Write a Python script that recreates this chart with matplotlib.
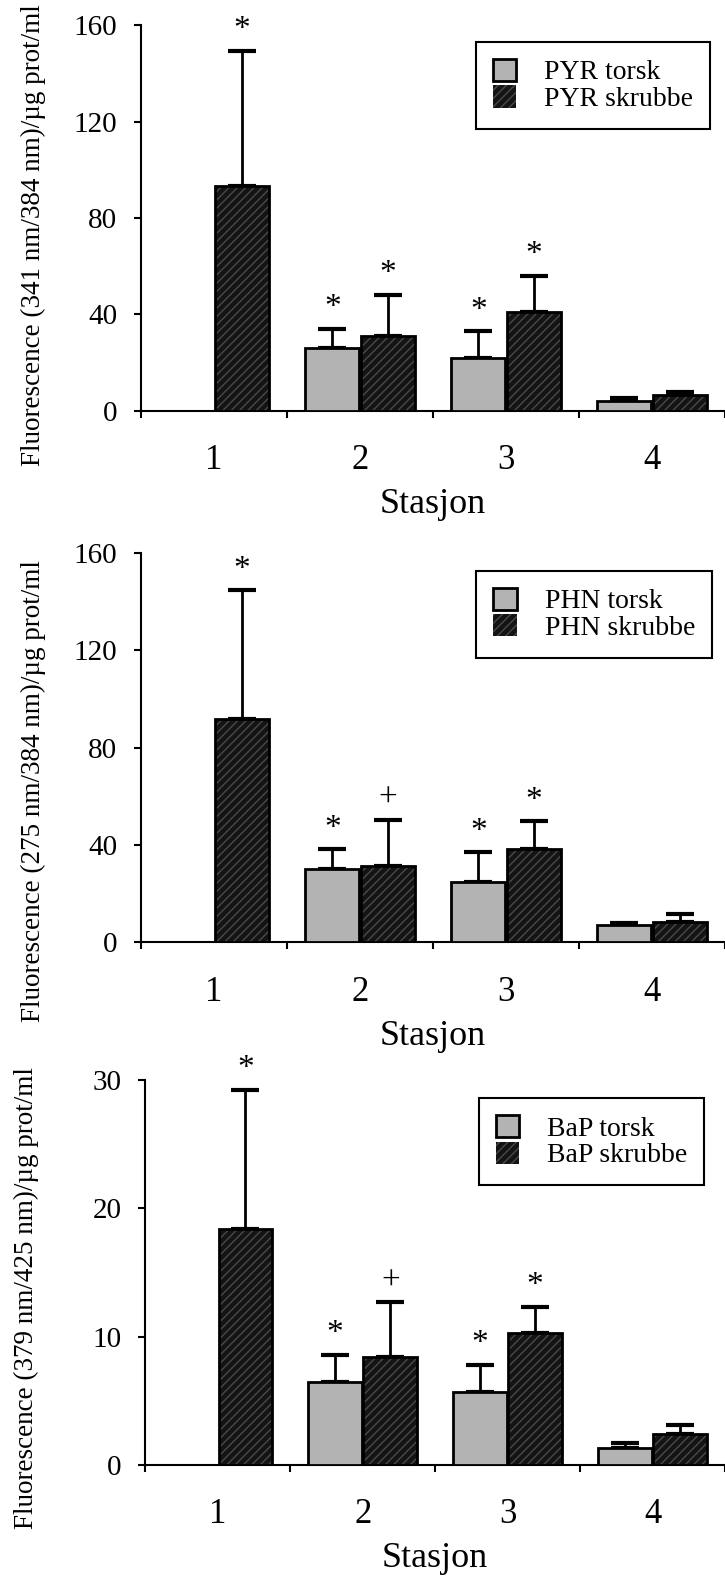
import matplotlib

matplotlib.use("Agg")
import matplotlib.pyplot as plt
import numpy as np
from matplotlib.patches import Patch

plt.rcParams["font.family"] = ["Liberation Serif", "DejaVu Serif"]

stations = ["1", "2", "3", "4"]

# PYR (341 nm / 384 nm)
pyr_torsk = [np.nan, 26.0, 21.8, 4.2]
pyr_torsk_err = [np.nan, 8.1, 11.2, 1.0]
pyr_skrubbe = [93.3, 30.9, 41.1, 6.6]
pyr_skrubbe_err = [56.2, 17.2, 15.0, 1.1]
pyr_marks_torsk = ["", "*", "*", ""]
pyr_marks_skrubbe = ["*", "*", "*", ""]

# PHN (275 nm / 384 nm)
phn_torsk = [np.nan, 30.3, 24.7, 7.2]
phn_torsk_err = [np.nan, 7.9, 12.4, 0.9]
phn_skrubbe = [91.7, 31.5, 38.6, 8.3]
phn_skrubbe_err = [53.0, 18.9, 11.1, 3.2]
phn_marks_torsk = ["", "*", "*", ""]
phn_marks_skrubbe = ["*", "+", "*", ""]

# BaP (379 nm / 425 nm)
bap_torsk = [np.nan, 6.5, 5.7, 1.3]
bap_torsk_err = [np.nan, 2.1, 2.1, 0.4]
bap_skrubbe = [18.4, 8.4, 10.3, 2.4]
bap_skrubbe_err = [10.8, 4.3, 2.0, 0.7]
bap_marks_torsk = ["", "*", "*", ""]
bap_marks_skrubbe = ["*", "+", "*", ""]

panels = [
    dict(torsk=pyr_torsk, torsk_err=pyr_torsk_err, skrubbe=pyr_skrubbe,
         skrubbe_err=pyr_skrubbe_err, mt=pyr_marks_torsk, ms=pyr_marks_skrubbe,
         name="PYR", ylabel="Fluorescence (341 nm/384 nm)/µg prot/ml",
         ymax=160, yticks=[0, 40, 80, 120, 160],
         rect=[0.1945, 0.740, 0.8055, 0.2439], lx=-0.163, ly=0.456,
         leg=(0.974, 0.957)),
    dict(torsk=phn_torsk, torsk_err=phn_torsk_err, skrubbe=phn_skrubbe,
         skrubbe_err=phn_skrubbe_err, mt=phn_marks_torsk, ms=phn_marks_skrubbe,
         name="PHN", ylabel="Fluorescence (275 nm/384 nm)/µg prot/ml",
         ymax=160, yticks=[0, 40, 80, 120, 160],
         rect=[0.1945, 0.4035, 0.8055, 0.2465], lx=-0.163, ly=0.39,
         leg=(0.977, 0.954)),
    dict(torsk=bap_torsk, torsk_err=bap_torsk_err, skrubbe=bap_skrubbe,
         skrubbe_err=bap_skrubbe_err, mt=bap_marks_torsk, ms=bap_marks_skrubbe,
         name="BaP", ylabel="Fluorescence (379 nm/425 nm)/µg prot/ml",
         ymax=30, yticks=[0, 10, 20, 30],
         rect=[0.2005, 0.0728, 0.7995, 0.2438], lx=-0.184, ly=0.433,
         leg=(0.964, 0.952)),
]

TORSK_COLOR = "#b3b3b3"
SKRUBBE_COLOR = "#141414"
HATCH_COLOR = "#4a4a4a"
plt.rcParams["hatch.color"] = HATCH_COLOR

fig = plt.figure(figsize=(7.25, 15.8), dpi=100)
x = np.arange(len(stations))
w = 0.37
off = 0.19

for p in panels:
    ax = fig.add_axes(p["rect"])
    t = np.array(p["torsk"], dtype=float)
    te = np.array(p["torsk_err"], dtype=float)
    s = np.array(p["skrubbe"], dtype=float)
    se = np.array(p["skrubbe_err"], dtype=float)

    ok = ~np.isnan(t)
    ax.bar(x[ok] - off, t[ok], width=w, color=TORSK_COLOR, edgecolor="black",
           linewidth=2, zorder=3)
    ax.bar(x + off, s, width=w, color=SKRUBBE_COLOR, edgecolor=HATCH_COLOR,
           hatch="////", linewidth=0, zorder=3)
    ax.bar(x + off, s, width=w, fill=False, edgecolor="black", linewidth=2,
           zorder=4)

    ax.errorbar(x[ok] - off, t[ok], yerr=[np.zeros(ok.sum()), te[ok]],
                fmt="none", ecolor="black", elinewidth=2, capsize=10,
                capthick=3, zorder=2)
    ax.errorbar(x + off, s, yerr=[np.zeros(len(s)), se], fmt="none",
                ecolor="black", elinewidth=2, capsize=10, capthick=3, zorder=2)

    # significance marks above the error bars
    for i in range(len(stations)):
        if p["mt"][i]:
            ax.annotate(p["mt"][i], (x[i] - off, t[i] + te[i]),
                        xytext=(0, 4), textcoords="offset points",
                        ha="center", va="bottom", fontsize=24)
        if p["ms"][i]:
            ax.annotate(p["ms"][i], (x[i] + off, s[i] + se[i]),
                        xytext=(0, 4), textcoords="offset points",
                        ha="center", va="bottom", fontsize=24,
                        annotation_clip=False)

    ax.set_xlim(-0.5, 3.5)
    ax.set_ylim(0, p["ymax"])
    ax.set_yticks(p["yticks"])
    ax.set_xticks(x)
    ax.set_xticklabels(stations)
    ax.set_xticks(np.arange(-0.5, 3.6, 1.0), minor=True)
    ax.tick_params(axis="x", which="major", length=0, pad=24, labelsize=25)
    ax.tick_params(axis="x", which="minor", length=5, width=1.5,
                   direction="out")
    ax.tick_params(axis="y", length=5, width=1.5, pad=12, labelsize=21)
    for side in ["top", "right"]:
        ax.spines[side].set_visible(False)
    for side in ["left", "bottom"]:
        ax.spines[side].set_linewidth(1.5)
    ax.set_xlabel("Stasjon", fontsize=26, labelpad=8)
    ax.set_ylabel(p["ylabel"], fontsize=19.5)
    ax.yaxis.set_label_coords(p["lx"], p["ly"])

    handles = [
        Patch(facecolor=TORSK_COLOR, edgecolor="black", linewidth=2),
        Patch(facecolor=SKRUBBE_COLOR, edgecolor=HATCH_COLOR, hatch="////",
              linewidth=0),
    ]
    leg = ax.legend(handles, [p["name"] + " torsk", p["name"] + " skrubbe"],
                    loc="upper right", bbox_to_anchor=p["leg"], fontsize=20,
                    frameon=True, fancybox=False, edgecolor="black",
                    framealpha=1, handlelength=0.85, handleheight=0.85,
                    handletextpad=1.0, labelspacing=0.0, borderpad=0.6,
                    borderaxespad=0)
    leg.get_frame().set_linewidth(1.5)

fig.savefig("out.png", dpi=100)
